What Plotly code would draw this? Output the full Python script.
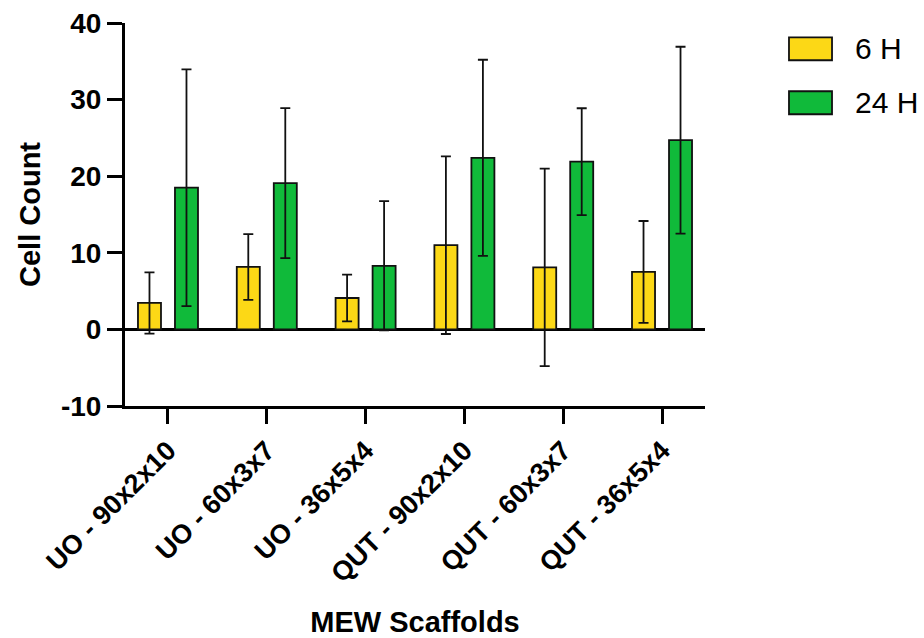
import plotly.graph_objects as go

categories = ["UO - 90x2x10", "UO - 60x3x7", "UO - 36x5x4",
              "QUT - 90x2x10", "QUT - 60x3x7", "QUT - 36x5x4"]
h6_mean = [3.45, 8.15, 4.1, 11.0, 8.1, 7.5]
h6_sd = [4.0, 4.3, 3.05, 11.6, 12.9, 6.65]
h24_mean = [18.5, 19.1, 8.3, 22.4, 21.9, 24.7]
h24_sd = [15.45, 9.8, 8.44, 12.8, 6.97, 12.2]
series_names = ["6 H", "24 H"]
colors = ["#FCD816", "#10BA3A"]
y_ticks = [-10, 0, 10, 20, 30, 40]
y_ticktext = ["-10", "0", "10", "20", "30", "40"]

FONT = "Liberation Sans, Arial, sans-serif"

fig = go.Figure()
for name, mean, sd, col in [(series_names[0], h6_mean, h6_sd, colors[0]),
                            (series_names[1], h24_mean, h24_sd, colors[1])]:
    fig.add_trace(go.Bar(
        x=list(range(len(categories))), y=mean, name=name,
        marker=dict(color=col, line=dict(color="#111111", width=1.8)),
        error_y=dict(type="data", array=sd, visible=True,
                     color="#111111", thickness=1.8, width=5),
        showlegend=False,
    ))

# legend drawn manually (large swatches like the reference)
leg_y = [0.9627, 0.8218]
for i, (name, col) in enumerate(zip(series_names, colors)):
    fig.add_shape(type="rect", xref="paper", yref="paper",
                  x0=1.1448, x1=1.219, y0=leg_y[i] - 0.060, y1=leg_y[i],
                  fillcolor=col, line=dict(color="#111111", width=1.8))
    fig.add_annotation(xref="paper", yref="paper", x=1.2552, y=leg_y[i] - 0.030,
                       text=name, showarrow=False, xanchor="left", yanchor="middle",
                       font=dict(family=FONT, size=30, color="#000000"))

fig.update_layout(
    width=924, height=638,
    margin=dict(l=125, r=219, t=23, b=232, autoexpand=False),
    paper_bgcolor="white", plot_bgcolor="white",
    barmode="group", bargap=0.251, bargroupgap=0.378,
    font=dict(family=FONT, color="#000000"),
)
fig.update_xaxes(
    range=[-0.435, 5.435], tickmode="array",
    tickvals=list(range(len(categories))), ticktext=categories,
    tickangle=-45, ticks="outside", ticklen=15, tickwidth=3, tickcolor="#000",
    showline=True, linewidth=3, linecolor="#000", showgrid=False, zeroline=False,
    tickfont=dict(family=FONT, size=27, weight="bold"), automargin=False,
    title=dict(text="MEW Scaffolds", standoff=28,
               font=dict(family=FONT, size=29, weight="bold")),
)
fig.update_yaxes(
    range=[-10, 40], tickmode="array", tickvals=y_ticks, ticktext=y_ticktext,
    ticks="outside", ticklen=15, tickwidth=3, tickcolor="#000",
    showline=True, linewidth=3, linecolor="#000", showgrid=False,
    zeroline=True, zerolinewidth=3, zerolinecolor="#000",
    tickfont=dict(family=FONT, size=28, weight="bold"), automargin=False,
    title=dict(text="Cell Count", standoff=12,
               font=dict(family=FONT, size=29, weight="bold")),
)
fig.write_html("out.html")
